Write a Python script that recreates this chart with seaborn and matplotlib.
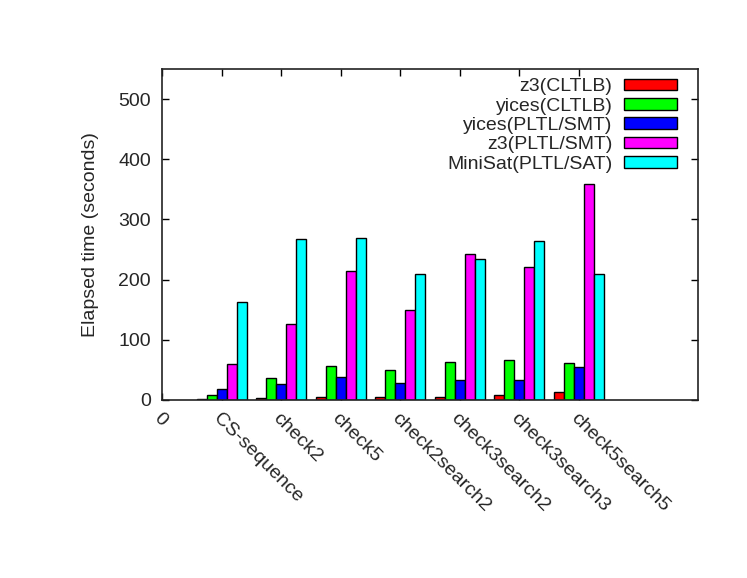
import matplotlib
matplotlib.use('Agg')
import matplotlib.pyplot as plt
import seaborn as sns
import pandas as pd

# benchmark cases and solver configurations
cases = ['CS-sequence', 'check2', 'check5', 'check2search2',
         'check3search2', 'check3search3', 'check5search5']
solvers = ['z3(CLTLB)', 'yices(CLTLB)', 'yices(PLTL/SMT)',
           'z3(PLTL/SMT)', 'MiniSat(PLTL/SAT)']
colors = ['#ff0000', '#00ff00', '#0000ff', '#ff00ff', '#00ffff']

# elapsed seconds per solver, one value per case
z3_cltlb = [2, 3, 5.5, 5.5, 5.5, 8, 13]
yices_cltlb = [9, 37, 56, 49, 63, 67, 62]
yices_pltl = [19, 27, 38, 29, 34, 33, 54]
z3_pltl = [60, 126, 215, 149, 242, 221, 359]
minisat_pltl = [163, 267, 270, 209, 235, 264, 210]

series = [z3_cltlb, yices_cltlb, yices_pltl, z3_pltl, minisat_pltl]
rows = []
for name, vals in zip(solvers, series):
    for case, v in zip(cases, vals):
        rows.append({'case': case, 'solver': name, 'time': v})
df = pd.DataFrame(rows)

sns.set_style('white')
plt.rcParams['font.family'] = ['Liberation Sans', 'DejaVu Sans']
FS = 14

fig = plt.figure(figsize=(7.47, 5.78), dpi=100)
ax = fig.add_axes([0.2169, 0.308, 0.7175, 0.5726])

order = ['0'] + cases
sns.barplot(data=df, x='case', y='time', hue='solver', order=order,
            hue_order=solvers, palette=colors, width=0.84, gap=0,
            edgecolor='black', linewidth=1, saturation=1, ax=ax,
            errorbar=None)

ax.set_xlim(0, 9)
ax.set_ylim(0, 550)
ax.set_yticks([0, 100, 200, 300, 400, 500])
ax.set_xticks(range(len(order)))
ax.set_xticklabels(order, rotation=-45, ha='left', va='top',
                   rotation_mode='anchor', fontsize=FS)
ax.tick_params(axis='y', labelsize=FS, pad=8)
ax.tick_params(direction='in', length=5, width=1, top=True, right=True,
               bottom=True, left=True, color='black')
ax.tick_params(axis='x', pad=7)
ax.set_xlabel('')
ax.set_ylabel('Elapsed time (seconds)', fontsize=FS, labelpad=14)
for s in ax.spines.values():
    s.set_color('#222222')
    s.set_linewidth(1.2)

leg = ax.legend(loc='upper right', bbox_to_anchor=(0.96, 0.972),
                frameon=False, markerfirst=False,
                fontsize=FS, handlelength=2.7, handleheight=0.55,
                labelspacing=0.12, borderaxespad=0, handletextpad=0.6,
                borderpad=0)
for t in leg.get_texts():
    t.set_ha('right')
leg._legend_box.align = 'right'

fig.savefig('out.png', dpi=100)
